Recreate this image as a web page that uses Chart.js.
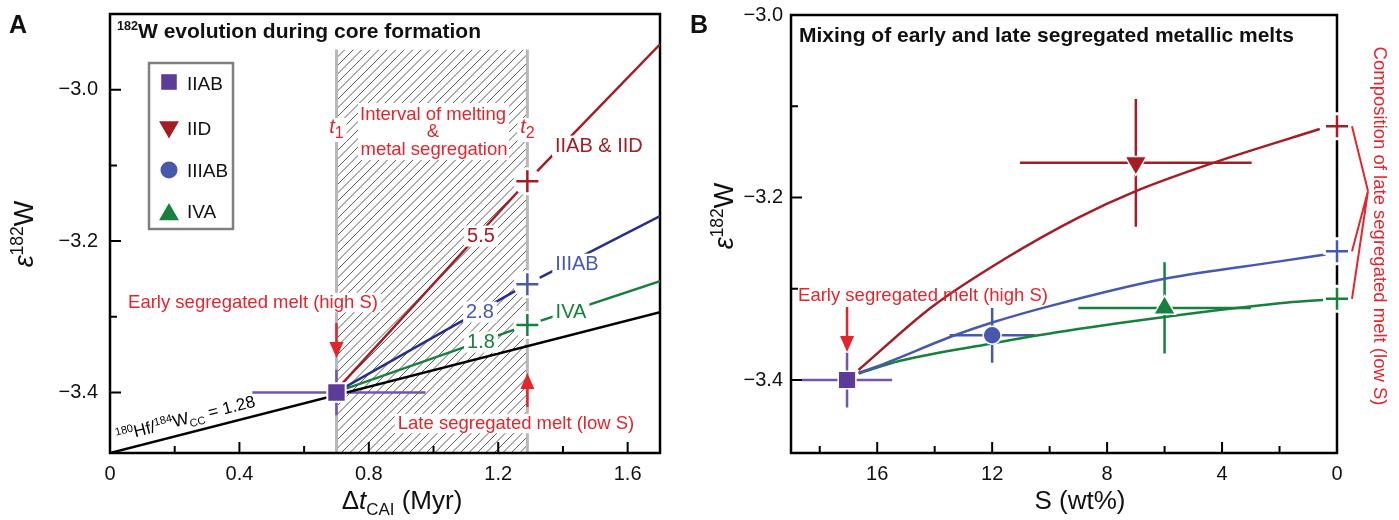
<!DOCTYPE html>
<html>
<head>
<meta charset="utf-8">
<script src="https://cdn.jsdelivr.net/npm/chart.js@4.4.1/dist/chart.umd.min.js"></script>
<style>
html, body { margin: 0; padding: 0; background: #fff; }
#wrap { position: relative; width: 1399px; height: 520px; overflow: hidden; }
canvas { position: absolute; top: 0; }
#ca { left: 0; }
#cb { left: 680px; }
</style>
</head>
<body>
<div id="wrap">
  <canvas id="ca" width="680" height="520"></canvas>
  <canvas id="cb" width="719" height="520"></canvas>
</div>
<script>
// ── panel A: 182W evolution during core formation ──
const xTicksA = [0, 0.2, 0.4, 0.6, 0.8, 1.0, 1.2, 1.4, 1.6];
const xLabelsA = ['0', '', '0.4', '', '0.8', '', '1.2', '', '1.6'];
const yTicksA = [-3.4, -3.3, -3.2, -3.1, -3.0];
const yLabelsA = ['−3.4', '', '−3.2', '', '−3.0'];
const meltInterval = [0.70, 1.29];              // t1, t2 (Myr)
const hatchTop = -2.947;
const ccLine = [[0, -3.48], [1.7, -3.294]];     // 180Hf/184W(CC) = 1.28
const iidLineA = [[0.71, -3.392], [1.29, -3.121], [1.7, -2.94]];
const iiiabLineA = [[0.71, -3.397], [1.29, -3.257], [1.7, -3.167]];
const ivaLineA = [[0.71, -3.398], [1.29, -3.311], [1.7, -3.253]];
const lateA = [[1.29, -3.121], [1.29, -3.257], [1.29, -3.311]];
const iiabA = [0.70, -3.40];
const iiabAxErr = [0.44, 0.975];
const iiabAyErr = [-3.43, -3.37];

// ── panel B: mixing of early and late segregated melts ──
const xTicksB = [18, 16, 14, 12, 10, 8, 6, 4, 2, 0];
const xLabelsB = ['', '16', '', '12', '', '8', '', '4', '', '0'];
const yTicksB = [-3.4, -3.3, -3.2, -3.1, -3.0];
const yLabelsB = ['−3.4', '', '−3.2', '', '−3.0'];
const groups = ['IIAB', 'IID', 'IIIAB', 'IVA'];
const groupS = [17.05, 7.0, 12.0, 6.0];
const groupSErr = [1.57, 4.03, 1.48, 3.0];
const groupEps = [-3.40, -3.162, -3.351, -3.321];
const groupEpsErr = [0.03, 0.07, 0.03, 0.05];
const lateEps = [-3.122, -3.259, -3.311];       // IID, IIIAB, IVA at S = 0
const mixIID = [[16.65, -3.389], [14.1, -3.32], [11.6, -3.268], [9.0, -3.222], [7.0, -3.193], [4.3, -3.162], [0.6, -3.125]];
const mixIIIAB = [[16.65, -3.392], [16.0, -3.385], [13.3, -3.351], [12.0, -3.337], [10.0, -3.319], [6.0, -3.289], [2.0, -3.270], [0.4, -3.2625]];
const mixIVA = [[16.65, -3.393], [15.2, -3.379], [12.0, -3.360], [9.8, -3.348], [6.0, -3.331], [2.0, -3.316], [0.4, -3.312]];

const FONT = "'Liberation Sans', Arial, Helvetica, sans-serif";
const RED = '#e3252d', DKRED = '#a51d24', PURPLE = '#5d3b98', PURPLE_BAR = '#7156b1',
    BLUE = '#4659ad', NAVY = '#272f88', GREEN = '#17803c';
const groupColors = [PURPLE, DKRED, BLUE, GREEN];
const groupBars = [PURPLE_BAR, DKRED, BLUE, GREEN];
const groupMarkers = ['rect', 'triDown', 'circle', 'triUp'];

Chart.defaults.font.family = FONT;
Chart.defaults.color = '#111';

const pts = arr => arr.map(p => ({ x: p[0], y: p[1] }));

// ── drawing helpers ──
function rich(ctx, parts, x, y, size, align, color, sc = 0.65) {
    const fontOf = p => {
        const f = (p[1] || '').split(' ');
        let sz = (f.includes('sup') || f.includes('sub')) ? size * sc : size;
        return (f.includes('i') ? 'italic ' : '') + (f.includes('b') ? 'bold ' : '') + sz + 'px ' + FONT;
    };
    let w = 0;
    parts.forEach(p => { ctx.font = fontOf(p); w += ctx.measureText(p[0]).width; });
    let cx = align === 'center' ? x - w / 2 : align === 'right' ? x - w : x;
    ctx.textAlign = 'left';
    ctx.textBaseline = 'alphabetic';
    ctx.fillStyle = color;
    parts.forEach(p => {
        const f = (p[1] || '').split(' ');
        ctx.font = fontOf(p);
        const dy = f.includes('sup') ? -size * 0.36 : f.includes('sub') ? size * 0.24 : 0;
        ctx.fillText(p[0], cx, y + dy);
        cx += ctx.measureText(p[0]).width;
    });
    return w;
}

function label(ctx, s, x, y, o = {}) {
    const size = o.size || 18.5;
    ctx.save();
    ctx.font = (o.italic ? 'italic ' : '') + size + 'px ' + FONT;
    ctx.textAlign = o.align || 'center';
    ctx.textBaseline = 'alphabetic';
    if (o.bg) {
        const w = ctx.measureText(s).width;
        const x0 = ctx.textAlign === 'center' ? x - w / 2 : ctx.textAlign === 'right' ? x - w : x;
        ctx.fillStyle = '#fff';
        ctx.fillRect(x0 - 3, y - size * 0.82, w + 6, size * 1.05);
    }
    ctx.fillStyle = o.color || '#000';
    ctx.fillText(s, x, y);
    ctx.restore();
}

function arrow(ctx, x, y0, y1, color) {
    const d = y1 > y0 ? 1 : -1;
    ctx.save();
    ctx.strokeStyle = color; ctx.fillStyle = color; ctx.lineWidth = 2.5;
    ctx.beginPath(); ctx.moveTo(x, y0); ctx.lineTo(x, y1 - d * 12); ctx.stroke();
    ctx.beginPath(); ctx.moveTo(x, y1); ctx.lineTo(x - 7, y1 - d * 16); ctx.lineTo(x + 7, y1 - d * 16); ctx.closePath(); ctx.fill();
    ctx.restore();
}

function marker(ctx, kind, x, y, r, color) {
    ctx.beginPath();
    if (kind === 'rect') { const s = r * Math.SQRT1_2; ctx.rect(x - s, y - s, 2 * s, 2 * s); }
    else if (kind === 'circle') ctx.arc(x, y, r, 0, Math.PI * 2);
    else {
        const d = kind === 'triUp' ? -1 : 1;
        ctx.moveTo(x, y + d * r); ctx.lineTo(x + 0.866 * r, y - d * r / 2); ctx.lineTo(x - 0.866 * r, y - d * r / 2); ctx.closePath();
    }
    ctx.fillStyle = color; ctx.fill();
}

function errBar(chart, x, y, x0, x1, y0, y1, color) {
    const { ctx } = chart, sx = chart.scales.x, sy = chart.scales.y;
    ctx.save();
    ctx.strokeStyle = color; ctx.lineWidth = 2.5;
    ctx.beginPath();
    ctx.moveTo(sx.getPixelForValue(x0), sy.getPixelForValue(y)); ctx.lineTo(sx.getPixelForValue(x1), sy.getPixelForValue(y));
    ctx.moveTo(sx.getPixelForValue(x), sy.getPixelForValue(y0)); ctx.lineTo(sx.getPixelForValue(x), sy.getPixelForValue(y1));
    ctx.stroke();
    ctx.restore();
}

// box with inward ticks
function frame(chart, xt, xl, yt, yl) {
    const { ctx, chartArea: a, scales } = chart;
    ctx.save();
    ctx.strokeStyle = '#000'; ctx.lineWidth = 2.5;
    ctx.strokeRect(a.left, a.top, a.right - a.left, a.bottom - a.top);
    ctx.lineWidth = 2;
    ctx.beginPath();
    xt.forEach((v, i) => { const x = scales.x.getPixelForValue(v); ctx.moveTo(x, a.bottom); ctx.lineTo(x, a.bottom - (xl[i] ? 11 : 7)); });
    yt.forEach((v, i) => { const y = scales.y.getPixelForValue(v); ctx.moveTo(a.left, y); ctx.lineTo(a.left + (yl[i] ? 11 : 7), y); });
    ctx.stroke();
    ctx.restore();
}

function axes(xt, xl, yt, yl, xr, yr, yPad, yWidth, reverse) {
    return {
        x: {
            type: 'linear', min: xr[0], max: xr[1], reverse: !!reverse,
            grid: { display: false, drawTicks: false }, border: { display: false },
            afterBuildTicks: s => { s.ticks = xt.map(v => ({ value: v })); },
            afterFit: s => { s.height = 67; s.paddingLeft = 0; s.paddingRight = 0; },
            ticks: { padding: 9, maxRotation: 0, autoSkip: false, font: { size: 20 }, callback: (v, i) => xl[i] }
        },
        y: {
            type: 'linear', min: yr[0], max: yr[1],
            grid: { display: false, drawTicks: false }, border: { display: false },
            afterBuildTicks: s => { s.ticks = yt.map(v => ({ value: v })); },
            afterFit: s => { s.width = yWidth; s.paddingTop = 0; s.paddingBottom = 0; },
            ticks: { padding: yPad, autoSkip: false, font: { size: 20 }, callback: (v, i) => yl[i] }
        }
    };
}

const base = {
    responsive: false, maintainAspectRatio: false, animation: false, events: [],
    plugins: { legend: { display: false }, tooltip: { enabled: false } }
};

// ── panel A ──
const decoA = {
    id: 'decoA',
    beforeDatasetsDraw(chart) {
        const { ctx, chartArea: a, scales } = chart;
        const x0 = scales.x.getPixelForValue(meltInterval[0]), x1 = scales.x.getPixelForValue(meltInterval[1]);
        const yT = scales.y.getPixelForValue(hatchTop);
        ctx.save();
        ctx.beginPath(); ctx.rect(x0, yT, x1 - x0, a.bottom - yT); ctx.clip();
        ctx.strokeStyle = '#5a5a5a'; ctx.lineWidth = 1;
        ctx.beginPath();
        const H = a.bottom - yT;
        for (let k = x0 - H; k < x1 + 8; k += 8.5) { ctx.moveTo(k, a.bottom); ctx.lineTo(k + H, yT); }
        ctx.stroke();
        ctx.restore();
        ctx.save();
        ctx.strokeStyle = '#b8b8b8'; ctx.lineWidth = 3;
        ctx.beginPath(); ctx.moveTo(x0, yT); ctx.lineTo(x0, a.bottom); ctx.moveTo(x1, yT); ctx.lineTo(x1, a.bottom); ctx.stroke();
        ctx.restore();
        errBar(chart, iiabA[0], iiabA[1], iiabAxErr[0], iiabAxErr[1], iiabAyErr[0], iiabAyErr[1], PURPLE_BAR);
        frame(chart, xTicksA, xLabelsA, yTicksA, yLabelsA);
    },
    afterDatasetsDraw(chart) {
        const { ctx, chartArea: a, scales } = chart;
        const tx1 = scales.x.getPixelForValue(meltInterval[0]), tx2 = scales.x.getPixelForValue(meltInterval[1]);
        // interval box
        ctx.save(); ctx.fillStyle = '#fff'; ctx.fillRect(358, 103, 151, 57); ctx.restore();
        label(ctx, 'Interval of melting', 433, 120, { color: RED });
        label(ctx, '&', 433, 137, { color: RED });
        label(ctx, 'metal segregation', 434, 155, { color: RED });
        [[tx1, '1'], [tx2, '2']].forEach(([x, n]) => {
            ctx.save(); ctx.fillStyle = '#fff'; ctx.fillRect(x - 10, 118, 20, 24); ctx.restore();
            ctx.save(); rich(ctx, [['t', 'i'], [n, 'sub']], x, 133, 20, 'center', RED, 0.8); ctx.restore();
        });
        // slope labels
        label(ctx, '5.5', 481, 242, { size: 20, color: DKRED, bg: true });
        label(ctx, '2.8', 480, 318, { size: 20, color: BLUE, bg: true });
        label(ctx, '1.8', 481, 348, { size: 20, color: GREEN, bg: true });
        label(ctx, 'IIAB & IID', 555, 152, { size: 20, color: DKRED, align: 'left', bg: true });
        label(ctx, 'IIIAB', 577, 270, { size: 20, color: BLUE, bg: true });
        label(ctx, 'IVA', 571, 318, { size: 20, color: GREEN, bg: true });
        // early / late melt
        label(ctx, 'Early segregated melt (high S)', 253, 308, { color: RED, bg: true });
        arrow(ctx, tx1, 323, 358, RED);
        label(ctx, 'Late segregated melt (low S)', 516, 429, { color: RED, bg: true });
        arrow(ctx, tx2, 407, 373, RED);
        // 180Hf/184W reference line label
        const [x1, y1] = [scales.x.getPixelForValue(ccLine[0][0]), scales.y.getPixelForValue(ccLine[0][1])];
        const [x2, y2] = [scales.x.getPixelForValue(ccLine[1][0]), scales.y.getPixelForValue(ccLine[1][1])];
        const ang = Math.atan2(y2 - y1, x2 - x1);
        ctx.save();
        ctx.translate(x1 + Math.cos(ang) * 10 + Math.sin(ang) * 9, y1 + Math.sin(ang) * 10 - Math.cos(ang) * 9);
        ctx.rotate(ang);
        rich(ctx, [['180', 'sup'], ['Hf/', ''], ['184', 'sup'], ['W', ''], ['CC', 'sub'], [' = 1.28', '']], 0, 0, 17, 'left', '#000');
        ctx.restore();
        // legend
        ctx.save();
        ctx.fillStyle = '#fff'; ctx.fillRect(149, 63, 84, 166);
        ctx.strokeStyle = '#808080'; ctx.lineWidth = 2.5; ctx.strokeRect(149, 63, 84, 166);
        const ly = [82, 127, 170, 214.5], lr = [11, 11.5, 8.5, 11.5], ty = [90, 135, 177, 218];
        groups.forEach((g, i) => {
            marker(ctx, groupMarkers[i], 169, ly[i], lr[i], groupColors[i]);
            label(ctx, g, 187, ty[i], { size: 19, color: '#111', align: 'left' });
        });
        ctx.restore();
    },
    afterDraw(chart) {
        const { ctx } = chart;
        ctx.save();
        rich(ctx, [['182', 'b sup'], ['W evolution during core formation', 'b']], chart.chartArea.left + 7, 38, 21, 'left', '#111', 0.6);
        rich(ctx, [['A', 'b']], 9, 33, 25, 'left', '#111');
        rich(ctx, [['Δ', ''], ['t', 'i'], ['CAI', 'sub'], [' (Myr)', '']], 402, 509, 26, 'center', '#111');
        ctx.translate(33, 234); ctx.rotate(-Math.PI / 2);
        rich(ctx, [['ε', 'i'], ['182', 'sup'], ['W', '']], 0, 0, 27, 'center', '#111');
        ctx.restore();
    }
};

new Chart(document.getElementById('ca'), {
    type: 'scatter',
    data: {
        datasets: [
            { data: pts([iiabA]), pointStyle: 'rect', pointRadius: 13, backgroundColor: PURPLE, borderColor: '#fff', borderWidth: 2, order: 0 },
            { data: pts(lateA), pointStyle: 'cross', pointRadius: 11, pointBorderColor: [DKRED, BLUE, GREEN], pointBorderWidth: 2.5, order: 1, clip: false },
            { data: pts(lateA), pointStyle: 'circle', pointRadius: 14, pointBackgroundColor: '#fff', pointBorderWidth: 0, order: 2, clip: false },
            { data: pts(iidLineA), showLine: true, pointRadius: 0, borderColor: DKRED, borderWidth: 2.5, order: 3 },
            { data: pts(iiiabLineA), showLine: true, pointRadius: 0, borderColor: NAVY, borderWidth: 2.5, order: 3 },
            { data: pts(ivaLineA), showLine: true, pointRadius: 0, borderColor: GREEN, borderWidth: 2.5, order: 3 },
            { data: pts(ccLine), showLine: true, pointRadius: 0, borderColor: '#000', borderWidth: 2.5, order: 4 }
        ]
    },
    options: Object.assign({}, base, {
        layout: { autoPadding: false, padding: { left: 0, top: 14, right: 20, bottom: 0 } },
        scales: axes(xTicksA, xLabelsA, yTicksA, yLabelsA, [0, 1.7], [-3.48, -2.9], 12, 110, false)
    }),
    plugins: [decoA]
});

// ── panel B ──
const decoB = {
    id: 'decoB',
    beforeDatasetsDraw(chart) {
        groups.forEach((g, i) => errBar(chart, groupS[i], groupEps[i], groupS[i] - groupSErr[i], groupS[i] + groupSErr[i],
            groupEps[i] - groupEpsErr[i], groupEps[i] + groupEpsErr[i], groupBars[i]));
        frame(chart, xTicksB, xLabelsB, yTicksB, yLabelsB);
    },
    afterDatasetsDraw(chart) {
        const { ctx, chartArea: a, scales } = chart;
        label(ctx, 'Early segregated melt (high S)', a.left + 132, 301, { color: RED });
        arrow(ctx, scales.x.getPixelForValue(groupS[0]), 307, 352, RED);
        // bracket to late-melt compositions
        const R = scales.x.getPixelForValue(0);
        ctx.save();
        ctx.strokeStyle = RED; ctx.lineWidth = 2;
        ctx.beginPath();
        lateEps.forEach(e => { ctx.moveTo(R + 15, scales.y.getPixelForValue(e)); ctx.lineTo(R + 31, 191); });
        ctx.stroke();
        ctx.translate(R + 37, 226); ctx.rotate(Math.PI / 2);
        label(ctx, 'Composition of late segregated melt (low S)', 0, 0, { color: RED });
        ctx.restore();
    },
    afterDraw(chart) {
        const { ctx } = chart;
        ctx.save();
        rich(ctx, [['Mixing of early and late segregated metallic melts', 'b']], chart.chartArea.left + 8, 42, 21, 'left', '#111');
        rich(ctx, [['B', 'b']], 10, 33, 25, 'left', '#111');
        rich(ctx, [['S (wt%)', '']], 400, 509, 26, 'center', '#111');
        ctx.translate(53, 216); ctx.rotate(-Math.PI / 2);
        rich(ctx, [['ε', 'i'], ['182', 'sup'], ['W', '']], 0, 0, 27, 'center', '#111');
        ctx.restore();
    }
};

new Chart(document.getElementById('cb'), {
    type: 'scatter',
    data: {
        datasets: [
            {
                data: groupS.map((s, i) => ({ x: s, y: groupEps[i] })),
                pointStyle: ['rect', 'triangle', 'circle', 'triangle'], rotation: [0, 180, 0, 0],
                pointRadius: [12.5, 12.5, 9, 12.5], pointBackgroundColor: groupColors,
                pointBorderColor: '#fff', pointBorderWidth: 1.5, order: 0
            },
            { data: lateEps.map(e => ({ x: 0, y: e })), pointStyle: 'cross', pointRadius: 11, pointBorderColor: [DKRED, BLUE, GREEN], pointBorderWidth: 2.5, order: 1, clip: false },
            { data: lateEps.map(e => ({ x: 0, y: e })), pointStyle: 'cross', pointRadius: 14, pointBorderColor: '#fff', pointBorderWidth: 7, order: 2, clip: false },
            { data: pts(mixIID), showLine: true, pointRadius: 0, borderColor: DKRED, borderWidth: 2.5, cubicInterpolationMode: 'monotone', order: 3 },
            { data: pts(mixIIIAB), showLine: true, pointRadius: 0, borderColor: BLUE, borderWidth: 2.5, cubicInterpolationMode: 'monotone', order: 3 },
            { data: pts(mixIVA), showLine: true, pointRadius: 0, borderColor: GREEN, borderWidth: 2.5, cubicInterpolationMode: 'monotone', order: 3 }
        ]
    },
    options: Object.assign({}, base, {
        layout: { autoPadding: false, padding: { left: 0, top: 15, right: 62, bottom: 0 } },
        scales: axes(xTicksB, xLabelsB, yTicksB, yLabelsB, [0, 19], [-3.48, -3.0], 8, 111, true)
    }),
    plugins: [decoB]
});
</script>
</body>
</html>
